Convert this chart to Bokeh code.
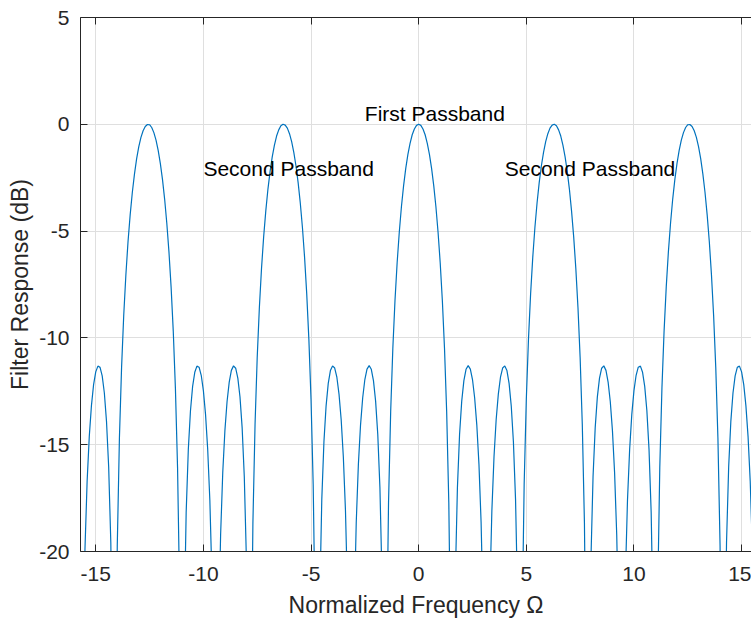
from bokeh.plotting import figure
from bokeh.models import Range1d, FixedTicker, LinearAxis, Label
from bokeh.embed import file_html
from bokeh.resources import INLINE

# Filter response in dB, sampled every 0.1 of normalized frequency from -15.7 to 15.7
response_db = [
    -45.00, -25.41, -19.87, -16.70, -14.61, -13.17, -12.19, -11.59, -11.32, -11.38,
    -11.78, -12.58, -13.91, -16.02, -19.58, -27.33, -31.45, -19.74, -14.67, -11.38,
    -8.94, -7.04, -5.49, -4.23, -3.18, -2.32, -1.61, -1.05, -0.61, -0.30,
    -0.10, -0.01, -0.02, -0.15, -0.39, -0.74, -1.22, -1.83, -2.58, -3.50,
    -4.62, -5.96, -7.61, -9.67, -12.34, -16.06, -22.22, -45.00, -23.85, -18.18,
    -15.22, -13.41, -12.27, -11.61, -11.32, -11.37, -11.75, -12.47, -13.58, -15.21,
    -17.59, -21.29, -28.52, -38.14, -24.17, -19.23, -16.29, -14.33, -12.98, -12.07,
    -11.52, -11.31, -11.42, -11.88, -12.76, -14.20, -16.49, -20.44, -29.96, -28.14,
    -18.68, -14.03, -10.92, -8.59, -6.75, -5.26, -4.04, -3.02, -2.19, -1.51,
    -0.97, -0.55, -0.26, -0.07, -0.00, -0.04, -0.18, -0.44, -0.81, -1.31,
    -1.94, -2.72, -3.67, -4.82, -6.22, -7.93, -10.07, -12.87, -16.85, -23.81,
    -41.20, -22.53, -17.56, -14.85, -13.18, -12.13, -11.53, -11.31, -11.41, -11.84,
    -12.63, -13.82, -15.55, -18.09, -22.14, -30.71, -33.65, -23.09, -18.64, -15.91,
    -14.07, -12.80, -11.95, -11.46, -11.30, -11.47, -12.00, -12.96, -14.51, -17.00,
    -21.41, -33.83, -25.72, -17.72, -13.43, -10.48, -8.25, -6.48, -5.04, -3.85,
    -2.87, -2.06, -1.41, -0.89, -0.49, -0.22, -0.05,
    0.00,
    -0.05, -0.22, -0.49, -0.89, -1.41, -2.06, -2.87, -3.85, -5.04, -6.48,
    -8.25, -10.48, -13.43, -17.72, -25.72, -33.83, -21.41, -17.00, -14.51, -12.96,
    -12.00, -11.47, -11.30, -11.46, -11.95, -12.80, -14.07, -15.91, -18.64, -23.09,
    -33.65, -30.71, -22.14, -18.09, -15.55, -13.82, -12.63, -11.84, -11.41, -11.31,
    -11.53, -12.13, -13.18, -14.85, -17.56, -22.53, -41.20, -23.81, -16.85, -12.87,
    -10.07, -7.93, -6.22, -4.82, -3.67, -2.72, -1.94, -1.31, -0.81, -0.44,
    -0.18, -0.04, -0.00, -0.07, -0.26, -0.55, -0.97, -1.51, -2.19, -3.02,
    -4.04, -5.26, -6.75, -8.59, -10.92, -14.03, -18.68, -28.14, -29.96, -20.44,
    -16.49, -14.20, -12.76, -11.88, -11.42, -11.31, -11.52, -12.07, -12.98, -14.33,
    -16.29, -19.23, -24.17, -38.14, -28.52, -21.29, -17.59, -15.21, -13.58, -12.47,
    -11.75, -11.37, -11.32, -11.61, -12.27, -13.41, -15.22, -18.18, -23.85, -45.00,
    -22.22, -16.06, -12.34, -9.67, -7.61, -5.96, -4.62, -3.50, -2.58, -1.83,
    -1.22, -0.74, -0.39, -0.15, -0.02, -0.01, -0.10, -0.30, -0.61, -1.05,
    -1.61, -2.32, -3.18, -4.23, -5.49, -7.04, -8.94, -11.38, -14.67, -19.74,
    -31.45, -27.33, -19.58, -16.02, -13.91, -12.58, -11.78, -11.38, -11.32, -11.59,
    -12.19, -13.17, -14.61, -16.70, -19.87, -25.41, -45.00,
]
omega_start = -15.7
omega_step = 0.1
omega = [round(omega_start + omega_step * i, 1) for i in range(len(response_db))]

x_ticks = [-15, -10, -5, 0, 5, 10, 15]
y_ticks = [-20, -15, -10, -5, 0, 5]

annotations = ["First Passband", "Second Passband", "Second Passband"]
annotation_x = [-2.5, -10.0, 4.0]
annotation_y = [0.5, -2.05, -2.05]

FONT = "Liberation Sans"
AX = "#262626"

p = figure(width=751, height=621, output_backend="svg", toolbar_location=None,
           x_range=Range1d(-15.708, 15.46), y_range=Range1d(-20, 5),
           min_border_left=80, min_border_right=0, min_border_top=17,
           min_border_bottom=70)
p.outline_line_color = None
p.background_fill_color = "white"
p.border_fill_color = "white"

p.line(omega, response_db, color="#0072BD", line_width=1.2)

for ax, ticks in ((p.xaxis[0], x_ticks), (p.yaxis[0], y_ticks)):
    ax.ticker = FixedTicker(ticks=ticks)
    ax.major_label_overrides = {t: str(t) for t in ticks}
    ax.major_tick_in = 7
    ax.major_tick_out = 0
    ax.minor_tick_in = 0
    ax.minor_tick_out = 0
    ax.axis_line_color = AX
    ax.major_tick_line_color = AX
    ax.major_label_text_font = FONT
    ax.major_label_text_font_size = "21px"
    ax.major_label_text_color = AX
    ax.axis_label_text_font = FONT
    ax.axis_label_text_font_size = "23px"
    ax.axis_label_text_font_style = "normal"
    ax.axis_label_text_color = AX

p.xaxis[0].axis_label = "Normalized Frequency Ω"
p.xaxis[0].major_label_standoff = 15
p.xaxis[0].axis_label_standoff = 8
p.yaxis[0].axis_label = "Filter Response (dB)"
p.yaxis[0].major_label_standoff = 11
p.yaxis[0].axis_label_standoff = 3

top = LinearAxis(ticker=FixedTicker(ticks=x_ticks), major_tick_in=7, major_tick_out=0,
                 minor_tick_in=0, minor_tick_out=0, axis_line_color=AX,
                 major_tick_line_color=AX, major_label_text_font_size="1px",
                 major_label_text_color=None, major_label_standoff=0)
p.add_layout(top, "above")

p.xgrid.ticker = FixedTicker(ticks=x_ticks)
p.ygrid.ticker = FixedTicker(ticks=y_ticks)
p.xgrid.grid_line_color = "#dfdfdf"
p.ygrid.grid_line_color = "#dfdfdf"

for txt, tx, ty in zip(annotations, annotation_x, annotation_y):
    p.add_layout(Label(x=tx, y=ty, text=txt, text_font=FONT, text_font_size="21px",
                       text_color="black", text_baseline="alphabetic", text_align="left"))

open("out.html", "w").write(file_html(p, INLINE))
